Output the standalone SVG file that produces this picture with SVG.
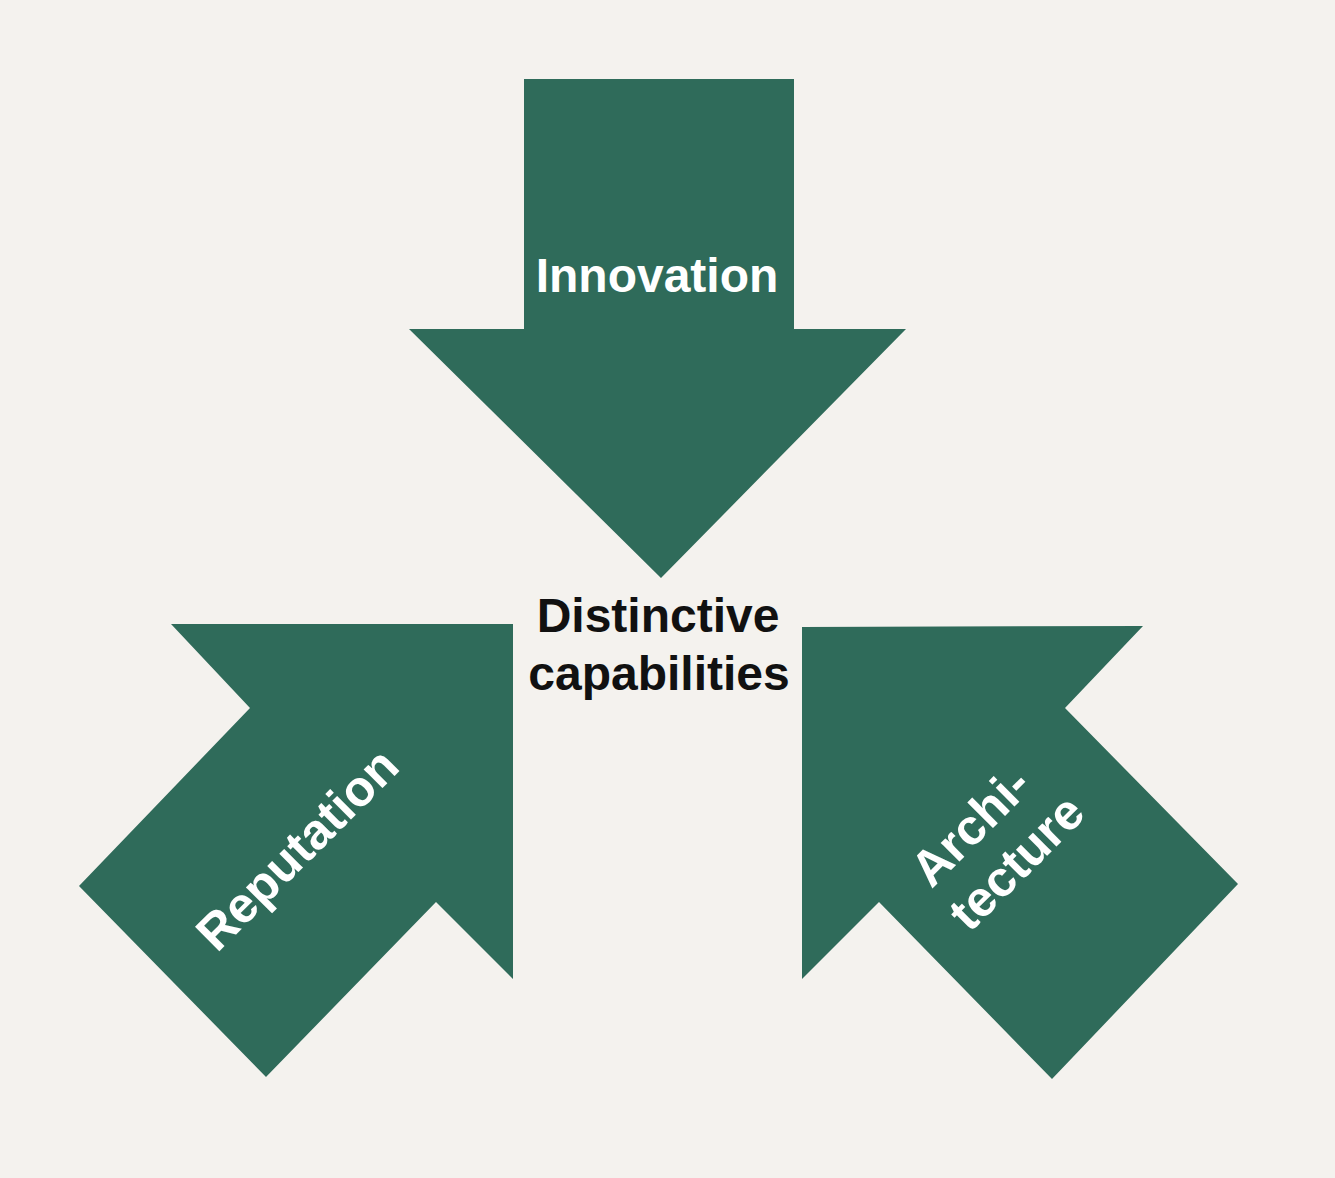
<svg xmlns="http://www.w3.org/2000/svg" width="1335" height="1178" viewBox="0 0 1335 1178">
  <style>
    .arrow { fill: #2f6b5a; }
    .lbl { font-family: "Liberation Sans", Arial, sans-serif; font-weight: bold; font-size: 48px; text-anchor: middle; }
    .rot { font-size: 50px; }
    .w { fill: #ffffff; }
    .k { fill: #111111; }
  </style>
  <rect x="0" y="0" width="1335" height="1178" fill="#f4f2ee"/>
  <g id="innovation">
    <polygon class="arrow" points="524,79 794,79 794,329 906,329 661,578 409,329 524,329"/>
    <text class="lbl w" x="657" y="292">Innovation</text>
  </g>
  <g id="reputation">
    <polygon class="arrow" points="171,624 513,624 513,979 436,902 266,1077 79,886 250,708"/>
    <text class="lbl rot w" transform="translate(298,850) rotate(-45)" x="0" y="16">Reputation</text>
  </g>
  <g id="architecture">
    <polygon class="arrow" points="802,627 1143,626 1065,708 1238,884 1052,1079 879,902 802,979"/>
    <text class="lbl rot w" transform="translate(996,842) rotate(-45)">
      <tspan x="0" y="-12">Archi-</tspan>
      <tspan x="0" y="46">tecture</tspan>
    </text>
  </g>
  <g id="center">
    <text class="lbl k" x="658" y="632">Distinctive</text>
    <text class="lbl k" x="659" y="690">capabilities</text>
  </g>
  <g id="connectors"></g>
</svg>
